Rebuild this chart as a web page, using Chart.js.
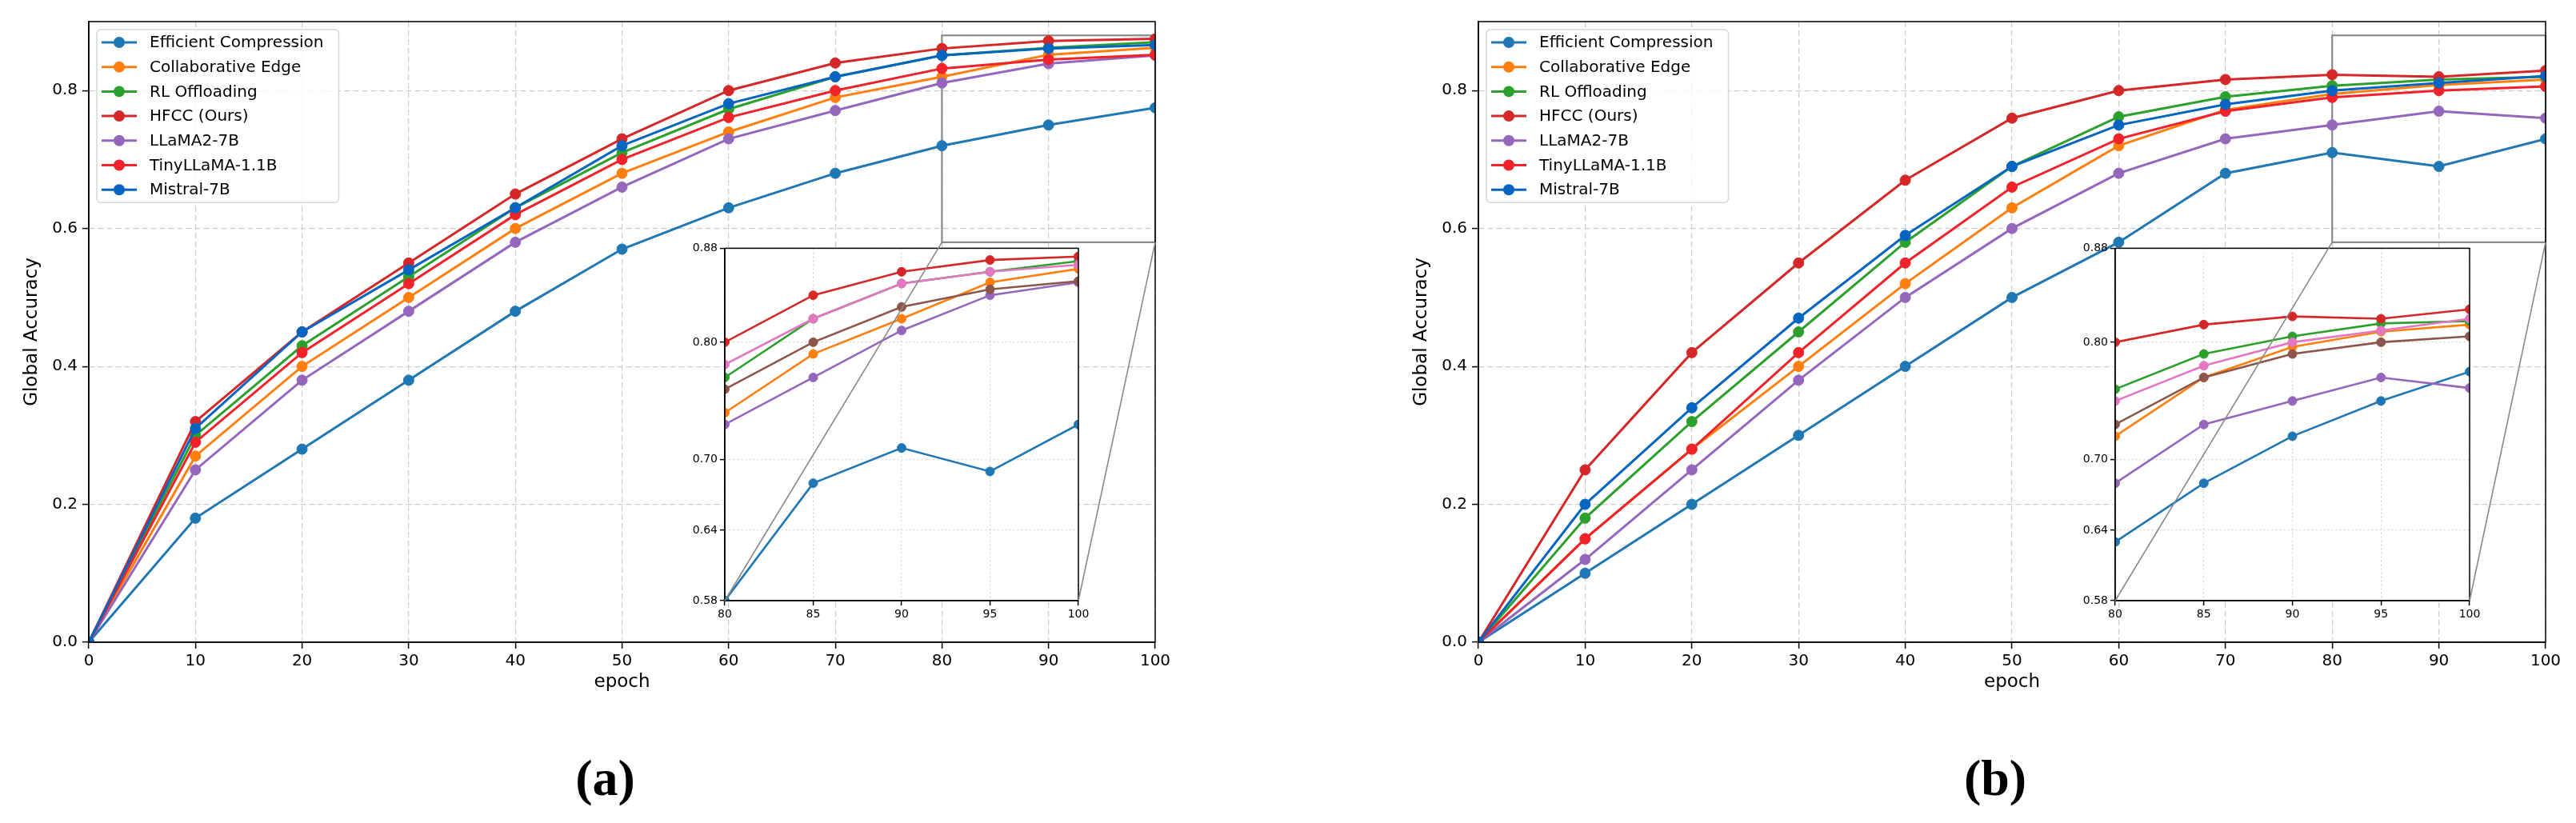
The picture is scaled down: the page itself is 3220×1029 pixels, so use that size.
<!DOCTYPE html>
<html>
<head>
<meta charset="utf-8">
<script src="https://cdn.jsdelivr.net/npm/chart.js@4.4.1/dist/chart.umd.min.js"></script>
<style>
  html, body { margin: 0; padding: 0; background: #fff; }
  #page { position: relative; width: 3220px; height: 1029px; overflow: hidden; background: #fff; }
  #page canvas { position: absolute; }
</style>
</head>
<body>
<div id="page">
  <canvas id="mainA"></canvas>
  <canvas id="mainB"></canvas>
  <canvas id="insetA"></canvas>
  <canvas id="insetB"></canvas>
  <canvas id="overlay"></canvas>
</div>
<script>
// ---- data ----
const epochs = [0, 10, 20, 30, 40, 50, 60, 70, 80, 90, 100];
const zoomEpochs = [80, 85, 90, 95, 100];
const methodNames = ['Efficient Compression', 'Collaborative Edge', 'RL Offloading', 'HFCC (Ours)',
                     'LLaMA2-7B', 'TinyLLaMA-1.1B', 'Mistral-7B'];
const yTicksMain = [0, 0.2, 0.4, 0.6, 0.8];
const yTicksZoom = [0.58, 0.64, 0.70, 0.80, 0.88];
const panelLabels = ['(a)', '(b)'];

// panel (a), main axes
const a_eff     = [0, 0.18, 0.28, 0.38, 0.48, 0.57, 0.63, 0.68, 0.72, 0.75, 0.775];
const a_collab  = [0, 0.27, 0.40, 0.50, 0.60, 0.68, 0.74, 0.79, 0.82, 0.852, 0.862];
const a_rl      = [0, 0.30, 0.43, 0.53, 0.63, 0.71, 0.773, 0.82, 0.851, 0.862, 0.87];
const a_hfcc    = [0, 0.32, 0.45, 0.55, 0.65, 0.73, 0.80, 0.84, 0.861, 0.872, 0.875];
const a_llama   = [0, 0.25, 0.38, 0.48, 0.58, 0.66, 0.73, 0.771, 0.811, 0.839, 0.851];
const a_tiny    = [0, 0.29, 0.42, 0.52, 0.62, 0.70, 0.761, 0.80, 0.832, 0.845, 0.852];
const a_mistral = [0, 0.31, 0.45, 0.54, 0.63, 0.72, 0.781, 0.82, 0.851, 0.861, 0.866];

// panel (a), zoomed inset
const za_eff     = [0.58, 0.68, 0.71, 0.69, 0.73];
const za_collab  = [0.74, 0.79, 0.82, 0.851, 0.8625];
const za_rl      = [0.77, 0.82, 0.85, 0.86, 0.869];
const za_hfcc    = [0.80, 0.84, 0.86, 0.870, 0.873];
const za_llama   = [0.73, 0.77, 0.81, 0.84, 0.851];
const za_tiny    = [0.76, 0.80, 0.83, 0.845, 0.852];
const za_mistral = [0.781, 0.82, 0.85, 0.86, 0.866];

// panel (b), main axes
const b_eff     = [0, 0.10, 0.20, 0.30, 0.40, 0.50, 0.58, 0.68, 0.71, 0.69, 0.73];
const b_collab  = [0, 0.15, 0.28, 0.40, 0.52, 0.63, 0.72, 0.772, 0.795, 0.808, 0.816];
const b_rl      = [0, 0.18, 0.32, 0.45, 0.58, 0.69, 0.762, 0.791, 0.807, 0.816, 0.82];
const b_hfcc    = [0, 0.25, 0.42, 0.55, 0.67, 0.76, 0.80, 0.816, 0.823, 0.82, 0.829];
const b_llama   = [0, 0.12, 0.25, 0.38, 0.50, 0.60, 0.68, 0.73, 0.75, 0.77, 0.76];
const b_tiny    = [0, 0.15, 0.28, 0.42, 0.55, 0.66, 0.73, 0.77, 0.79, 0.80, 0.806];
const b_mistral = [0, 0.20, 0.34, 0.47, 0.59, 0.69, 0.75, 0.78, 0.80, 0.811, 0.821];

// panel (b), zoomed inset
const zb_eff     = [0.63, 0.68, 0.72, 0.75, 0.775];
const zb_collab  = [0.72, 0.77, 0.796, 0.809, 0.815];
const zb_rl      = [0.76, 0.79, 0.805, 0.816, 0.818];
const zb_hfcc    = [0.80, 0.815, 0.822, 0.820, 0.828];
const zb_llama   = [0.68, 0.73, 0.75, 0.77, 0.761];
const zb_tiny    = [0.73, 0.77, 0.79, 0.80, 0.805];
const zb_mistral = [0.75, 0.78, 0.80, 0.81, 0.82];

// ---- styles ----
const mainColors = ['#1f77b4', '#ff7f0e', '#2ca02c', '#d62728', '#9467bd', '#f0222a', '#0565c0'];
const zoomColors = ['#1f77b4', '#ff7f0e', '#2ca02c', '#d62728', '#9467bd', '#8c564b', '#e377c2'];
const FONT = "'DejaVu Sans', sans-serif";

Chart.defaults.font.family = FONT;
Chart.defaults.color = '#000';
Chart.defaults.animation = false;

function place(id, left, top, width, height) {
    const c = document.getElementById(id);
    c.width = width;
    c.height = height;
    c.style.left = left + 'px';
    c.style.top = top + 'px';
    c.style.width = width + 'px';
    c.style.height = height + 'px';
    return c;
}

function makeDatasets(xs, series, colors, lw, r) {
    return series.map((ys, i) => ({
        label: methodNames[i],
        data: xs.map((x, j) => ({ x: x, y: ys[j] })),
        borderColor: colors[i],
        backgroundColor: colors[i],
        pointBackgroundColor: colors[i],
        pointBorderColor: colors[i],
        borderWidth: lw,
        pointRadius: r,
        pointBorderWidth: 1,
        tension: 0,
        order: series.length - i
    }));
}

// ---- plugins ----
const frame = {
    id: 'frame',
    afterDatasetsDraw(chart, args, opts) {
        const { ctx, chartArea: a } = chart;
        ctx.save();
        ctx.setLineDash([]);
        ctx.strokeStyle = '#000';
        ctx.lineWidth = opts.width || 1.5;
        ctx.strokeRect(a.left, a.top, a.width, a.height);
        ctx.restore();
    }
};

const insetBg = {
    id: 'insetBg',
    beforeDraw(chart) {
        const { ctx, chartArea: a } = chart;
        ctx.save();
        ctx.fillStyle = '#fff';
        ctx.fillRect(a.left, a.top, a.width, a.height);
        ctx.restore();
    }
};

// rectangle marking the zoomed region, in the main axes' own data space
const zoomRect = {
    id: 'zoomRect',
    beforeDatasetsDraw(chart) {
        const { ctx, scales } = chart;
        const l = scales.x.getPixelForValue(zoomEpochs[0]);
        const r = scales.x.getPixelForValue(zoomEpochs[zoomEpochs.length - 1]);
        const t = scales.y.getPixelForValue(yTicksZoom[yTicksZoom.length - 1]);
        const b = scales.y.getPixelForValue(yTicksZoom[0]);
        ctx.save();
        ctx.setLineDash([]);
        ctx.strokeStyle = '#8a8a8a';
        ctx.lineWidth = 2.2;
        ctx.strokeRect(l, t, r - l, b - t);
        ctx.restore();
    }
};

function roundRectPath(ctx, x, y, w, h, r) {
    ctx.beginPath();
    ctx.moveTo(x + r, y);
    ctx.arcTo(x + w, y, x + w, y + h, r);
    ctx.arcTo(x + w, y + h, x, y + h, r);
    ctx.arcTo(x, y + h, x, y, r);
    ctx.arcTo(x, y, x + w, y, r);
    ctx.closePath();
}

const legendBox = {
    id: 'legendBox',
    afterDraw(chart) {
        const { ctx, chartArea: a } = chart;
        const x0 = a.left + 10, y0 = a.top + 10;
        const rowH = 30.7;
        const sets = chart.data.datasets;
        ctx.save();
        ctx.font = '20px ' + FONT;
        let tw = 0;
        sets.forEach(ds => { tw = Math.max(tw, ctx.measureText(ds.label).width); });
        const w = 76 + tw + 9, h = 32 + rowH * (sets.length - 1);
        roundRectPath(ctx, x0, y0, w, h, 5);
        ctx.fillStyle = 'rgba(255,255,255,0.8)';
        ctx.fill();
        ctx.strokeStyle = '#d6d6d6';
        ctx.lineWidth = 1.5;
        ctx.stroke();
        sets.forEach((ds, i) => {
            const cy = y0 + 16 + i * rowH;
            ctx.strokeStyle = ds.borderColor;
            ctx.lineWidth = 3;
            ctx.beginPath();
            ctx.moveTo(x0 + 6, cy);
            ctx.lineTo(x0 + 50, cy);
            ctx.stroke();
            ctx.fillStyle = ds.borderColor;
            ctx.beginPath();
            ctx.arc(x0 + 28, cy, 7, 0, Math.PI * 2);
            ctx.fill();
            ctx.fillStyle = '#000';
            ctx.textAlign = 'left';
            ctx.textBaseline = 'middle';
            ctx.fillText(ds.label, x0 + 66, cy + 1);
        });
        ctx.restore();
    }
};

const panelLabel = {
    id: 'panelLabel',
    afterDraw(chart, args, opts) {
        const { ctx, chartArea: a } = chart;
        ctx.save();
        ctx.fillStyle = '#000';
        ctx.font = "bold 64px 'Liberation Serif', 'DejaVu Serif', serif";
        ctx.textAlign = 'center';
        ctx.textBaseline = 'middle';
        ctx.fillText(opts.text, (a.left + a.right) / 2 - 21, a.bottom + 174);
        ctx.restore();
    }
};

// ---- chart builders ----
function axisStyle(gridColor, dash, tickLen) {
    return {
        grid: {
            color: gridColor, lineWidth: 1.2, borderDash: dash,
            drawTicks: true, tickLength: tickLen, tickColor: '#000', tickWidth: 1.5, tickBorderDash: []
        },
        border: { display: true, color: '#000', width: 1.5, dash: dash }
    };
}

function mainChart(id, series, label) {
    const mainAxis = axisStyle('#cccccc', [7, 4], 8);
    return new Chart(document.getElementById(id), {
        type: 'line',
        data: { datasets: makeDatasets(epochs, series, mainColors, 3, 6.5) },
        options: {
            responsive: false,
            devicePixelRatio: 1,
            animation: false,
            layout: { padding: { left: 0, top: 27, right: layoutMain[id].padRight, bottom: 136 } },
            plugins: {
                legend: { display: false },
                tooltip: { enabled: false },
                panelLabel: { text: label }
            },
            scales: {
                x: {
                    type: 'linear', min: 0, max: 100,
                    afterBuildTicks: s => { s.ticks = epochs.map(v => ({ value: v })); },
                    afterFit: s => { s.height = 90; },
                    ticks: { font: { size: 20 }, padding: 4, autoSkip: false, maxRotation: 0,
                             callback: v => String(v) },
                    grid: mainAxis.grid, border: mainAxis.border,
                    title: { display: true, text: 'epoch', font: { size: 23 }, padding: { top: 0, bottom: 26 } }
                },
                y: {
                    type: 'linear', min: 0, max: 0.9,
                    afterBuildTicks: s => { s.ticks = yTicksMain.map(v => ({ value: v })); },
                    afterFit: s => { s.width = 111; },
                    ticks: { font: { size: 20 }, padding: 6, callback: v => v.toFixed(1) },
                    grid: mainAxis.grid, border: mainAxis.border,
                    title: { display: true, text: 'Global Accuracy', font: { size: 23 }, padding: { top: 26, bottom: 0 } }
                }
            }
        },
        plugins: [zoomRect, frame, legendBox, panelLabel]
    });
}

function insetChart(id, series) {
    const zAxis = axisStyle('#d4d4d4', [2, 3], 6);
    return new Chart(document.getElementById(id), {
        type: 'line',
        data: { datasets: makeDatasets(zoomEpochs, series, zoomColors, 2.6, 5.5) },
        options: {
            responsive: false,
            devicePixelRatio: 1,
            animation: false,
            layout: { padding: { left: 0, top: 10, right: 20, bottom: 5 } },
            plugins: { legend: { display: false }, tooltip: { enabled: false } },
            scales: {
                x: {
                    type: 'linear', min: zoomEpochs[0], max: zoomEpochs[zoomEpochs.length - 1],
                    afterBuildTicks: s => { s.ticks = zoomEpochs.map(v => ({ value: v })); },
                    afterFit: s => { s.height = 35; },
                    ticks: { font: { size: 14 }, padding: 3, autoSkip: false, maxRotation: 0,
                             callback: v => String(v) },
                    grid: zAxis.grid, border: zAxis.border
                },
                y: {
                    type: 'linear', min: yTicksZoom[0], max: yTicksZoom[yTicksZoom.length - 1],
                    afterBuildTicks: s => { s.ticks = yTicksZoom.map(v => ({ value: v })); },
                    afterFit: s => { s.width = 70; },
                    ticks: { font: { size: 14 }, padding: 3, callback: v => v.toFixed(2) },
                    grid: zAxis.grid, border: zAxis.border
                }
            }
        },
        plugins: [insetBg, frame]
    });
}

// canvas placement on the page
const layoutMain = {
    mainA: { left: 0, width: 1520, padRight: 76 },
    mainB: { left: 1737, width: 1483, padRight: 38 }
};
const layoutInset = {
    insetA: { left: 836, top: 299, width: 532, height: 492 },
    insetB: { left: 2574, top: 299, width: 533, height: 492 }
};

place('mainA', layoutMain.mainA.left, 0, layoutMain.mainA.width, 1029);
place('mainB', layoutMain.mainB.left, 0, layoutMain.mainB.width, 1029);
place('insetA', layoutInset.insetA.left, layoutInset.insetA.top, layoutInset.insetA.width, layoutInset.insetA.height);
place('insetB', layoutInset.insetB.left, layoutInset.insetB.top, layoutInset.insetB.width, layoutInset.insetB.height);
const overlay = place('overlay', 0, 0, 3220, 1029);

const chartA = mainChart('mainA', [a_eff, a_collab, a_rl, a_hfcc, a_llama, a_tiny, a_mistral], panelLabels[0]);
const chartB = mainChart('mainB', [b_eff, b_collab, b_rl, b_hfcc, b_llama, b_tiny, b_mistral], panelLabels[1]);
const zoomA = insetChart('insetA', [za_eff, za_collab, za_rl, za_hfcc, za_llama, za_tiny, za_mistral]);
const zoomB = insetChart('insetB', [zb_eff, zb_collab, zb_rl, zb_hfcc, zb_llama, zb_tiny, zb_mistral]);

// connector lines from the marked region's lower corners to the inset's lower corners
function drawConnectors(ctx, main, mainLeft, inset, insetPos) {
    const sx = main.scales.x, sy = main.scales.y;
    const bottom = sy.getPixelForValue(yTicksZoom[0]);
    const rl = mainLeft + sx.getPixelForValue(zoomEpochs[0]);
    const rr = mainLeft + sx.getPixelForValue(zoomEpochs[zoomEpochs.length - 1]);
    const ia = inset.chartArea;
    const il = insetPos.left + ia.left, ir = insetPos.left + ia.right, ib = insetPos.top + ia.bottom;
    ctx.save();
    ctx.strokeStyle = '#8a8a8a';
    ctx.lineWidth = 1.6;
    ctx.beginPath();
    ctx.moveTo(rl, bottom);
    ctx.lineTo(il, ib);
    ctx.moveTo(rr, bottom);
    ctx.lineTo(ir, ib);
    ctx.stroke();
    ctx.restore();
}

const octx = overlay.getContext('2d');
drawConnectors(octx, chartA, layoutMain.mainA.left, zoomA, layoutInset.insetA);
drawConnectors(octx, chartB, layoutMain.mainB.left, zoomB, layoutInset.insetB);
</script>
</body>
</html>
